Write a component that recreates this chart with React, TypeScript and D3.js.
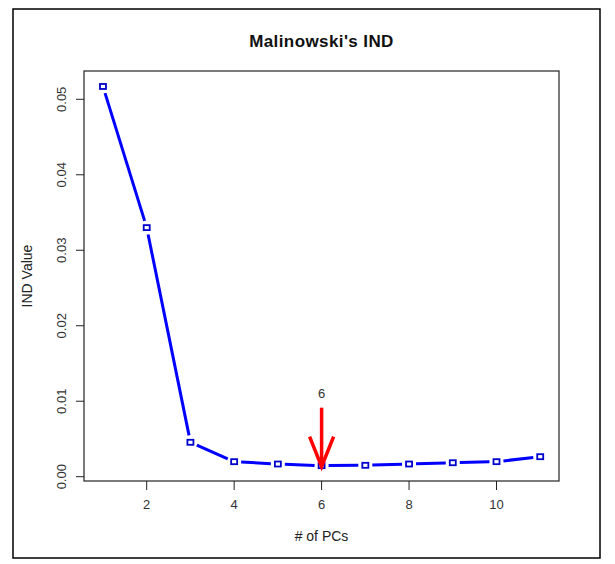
import React from "react";
import * as d3 from "d3";

const pcs = [1, 2, 3, 4, 5, 6, 7, 8, 9, 10, 11];
const indValues = [0.0517, 0.0330, 0.00456, 0.00199, 0.00168, 0.00146, 0.00151, 0.00168, 0.00185, 0.00199, 0.00265];
const xTicks = [2, 4, 6, 8, 10];
const yTicks = [0, 0.01, 0.02, 0.03, 0.04, 0.05];
const bestPC = 6;
const title = "Malinowski's IND";
const xLabel = "# of PCs";
const yLabel = "IND Value";

export default function App() {
  const W = 615, H = 564;
  const plot = { left: 84, right: 559, top: 71, bottom: 481 };
  const x = d3.scaleLinear().domain([2, 10]).range([146.7, 496.5]);
  const y = d3.scaleLinear().domain([0, 0.05]).range([476.7, 99.3]);
  const font = "'Liberation Sans', Arial, sans-serif";
  const pts = pcs.map((p, i) => [x(p), y(indValues[i])] as [number, number]);
  const gap = 7;
  const segs = pts.slice(0, -1).map((a, i) => {
    const b = pts[i + 1];
    const dx = b[0] - a[0], dy = b[1] - a[1];
    const len = Math.hypot(dx, dy);
    const ux = dx / len, uy = dy / len;
    return { x1: a[0] + ux * gap, y1: a[1] + uy * gap, x2: b[0] - ux * gap, y2: b[1] - uy * gap, ok: len > 2 * gap };
  });
  const ax = x(bestPC);
  const tipY = y(indValues[bestPC - 1]) + 1;
  const arrowTop = tipY - 59;
  return (
    <svg width={W} height={H} style={{ position: "absolute", left: 0, top: 0, background: "#fff" }}>
      <rect x={0} y={0} width={W} height={H} fill="#fff" />
      <rect x={13} y={9} width={587} height={549} fill="none" stroke="#000" strokeWidth={1.5} />
      <text x={(plot.left + plot.right) / 2} y={47} textAnchor="middle" fontFamily={font} fontWeight="bold" fontSize={17} letterSpacing={0.4} fill="#111">{title}</text>
      <rect x={plot.left} y={plot.top} width={plot.right - plot.left} height={plot.bottom - plot.top} fill="none" stroke="#222" strokeWidth={1.2} />
      {xTicks.map(t => (
        <g key={"x" + t}>
          <line x1={x(t)} x2={x(t)} y1={plot.bottom} y2={plot.bottom + 9} stroke="#222" strokeWidth={1} />
          <text x={x(t)} y={509} textAnchor="middle" fontFamily={font} fontSize={13} fill="#333">{t}</text>
        </g>
      ))}
      {yTicks.map(t => (
        <g key={"y" + t}>
          <line x1={plot.left - 8} x2={plot.left} y1={y(t)} y2={y(t)} stroke="#222" strokeWidth={1} />
          <text transform={`translate(66,${y(t)}) rotate(-90)`} textAnchor="middle" fontFamily={font} fontSize={13} fill="#333">{t.toFixed(2)}</text>
        </g>
      ))}
      <text x={(plot.left + plot.right) / 2} y={541} textAnchor="middle" fontFamily={font} fontSize={14} fill="#222">{xLabel}</text>
      <text transform={`translate(32,${(plot.top + plot.bottom) / 2}) rotate(-90)`} textAnchor="middle" fontFamily={font} fontSize={14} fill="#222">{yLabel}</text>
      {segs.filter(s => s.ok).map((s, i) => (
        <line key={"s" + i} x1={s.x1} y1={s.y1} x2={s.x2} y2={s.y2} stroke="#0000ff" strokeWidth={3} />
      ))}
      {pts.map((p, i) => (
        <rect key={"p" + i} x={p[0] - 3} y={p[1] - 2.5} width={6} height={5} fill="none" stroke="#0000cc" strokeWidth={1.8} />
      ))}
      <line x1={ax} x2={ax} y1={arrowTop} y2={tipY - 2} stroke="#ff0000" strokeWidth={3.5} />
      <polyline points={`${ax - 12},${tipY - 30} ${ax},${tipY} ${ax + 12},${tipY - 30}`} fill="none" stroke="#ff0000" strokeWidth={3.5} />
      <text x={ax} y={arrowTop - 10} textAnchor="middle" fontFamily={font} fontSize={13} fill="#333">{bestPC}</text>
    </svg>
  );
}
